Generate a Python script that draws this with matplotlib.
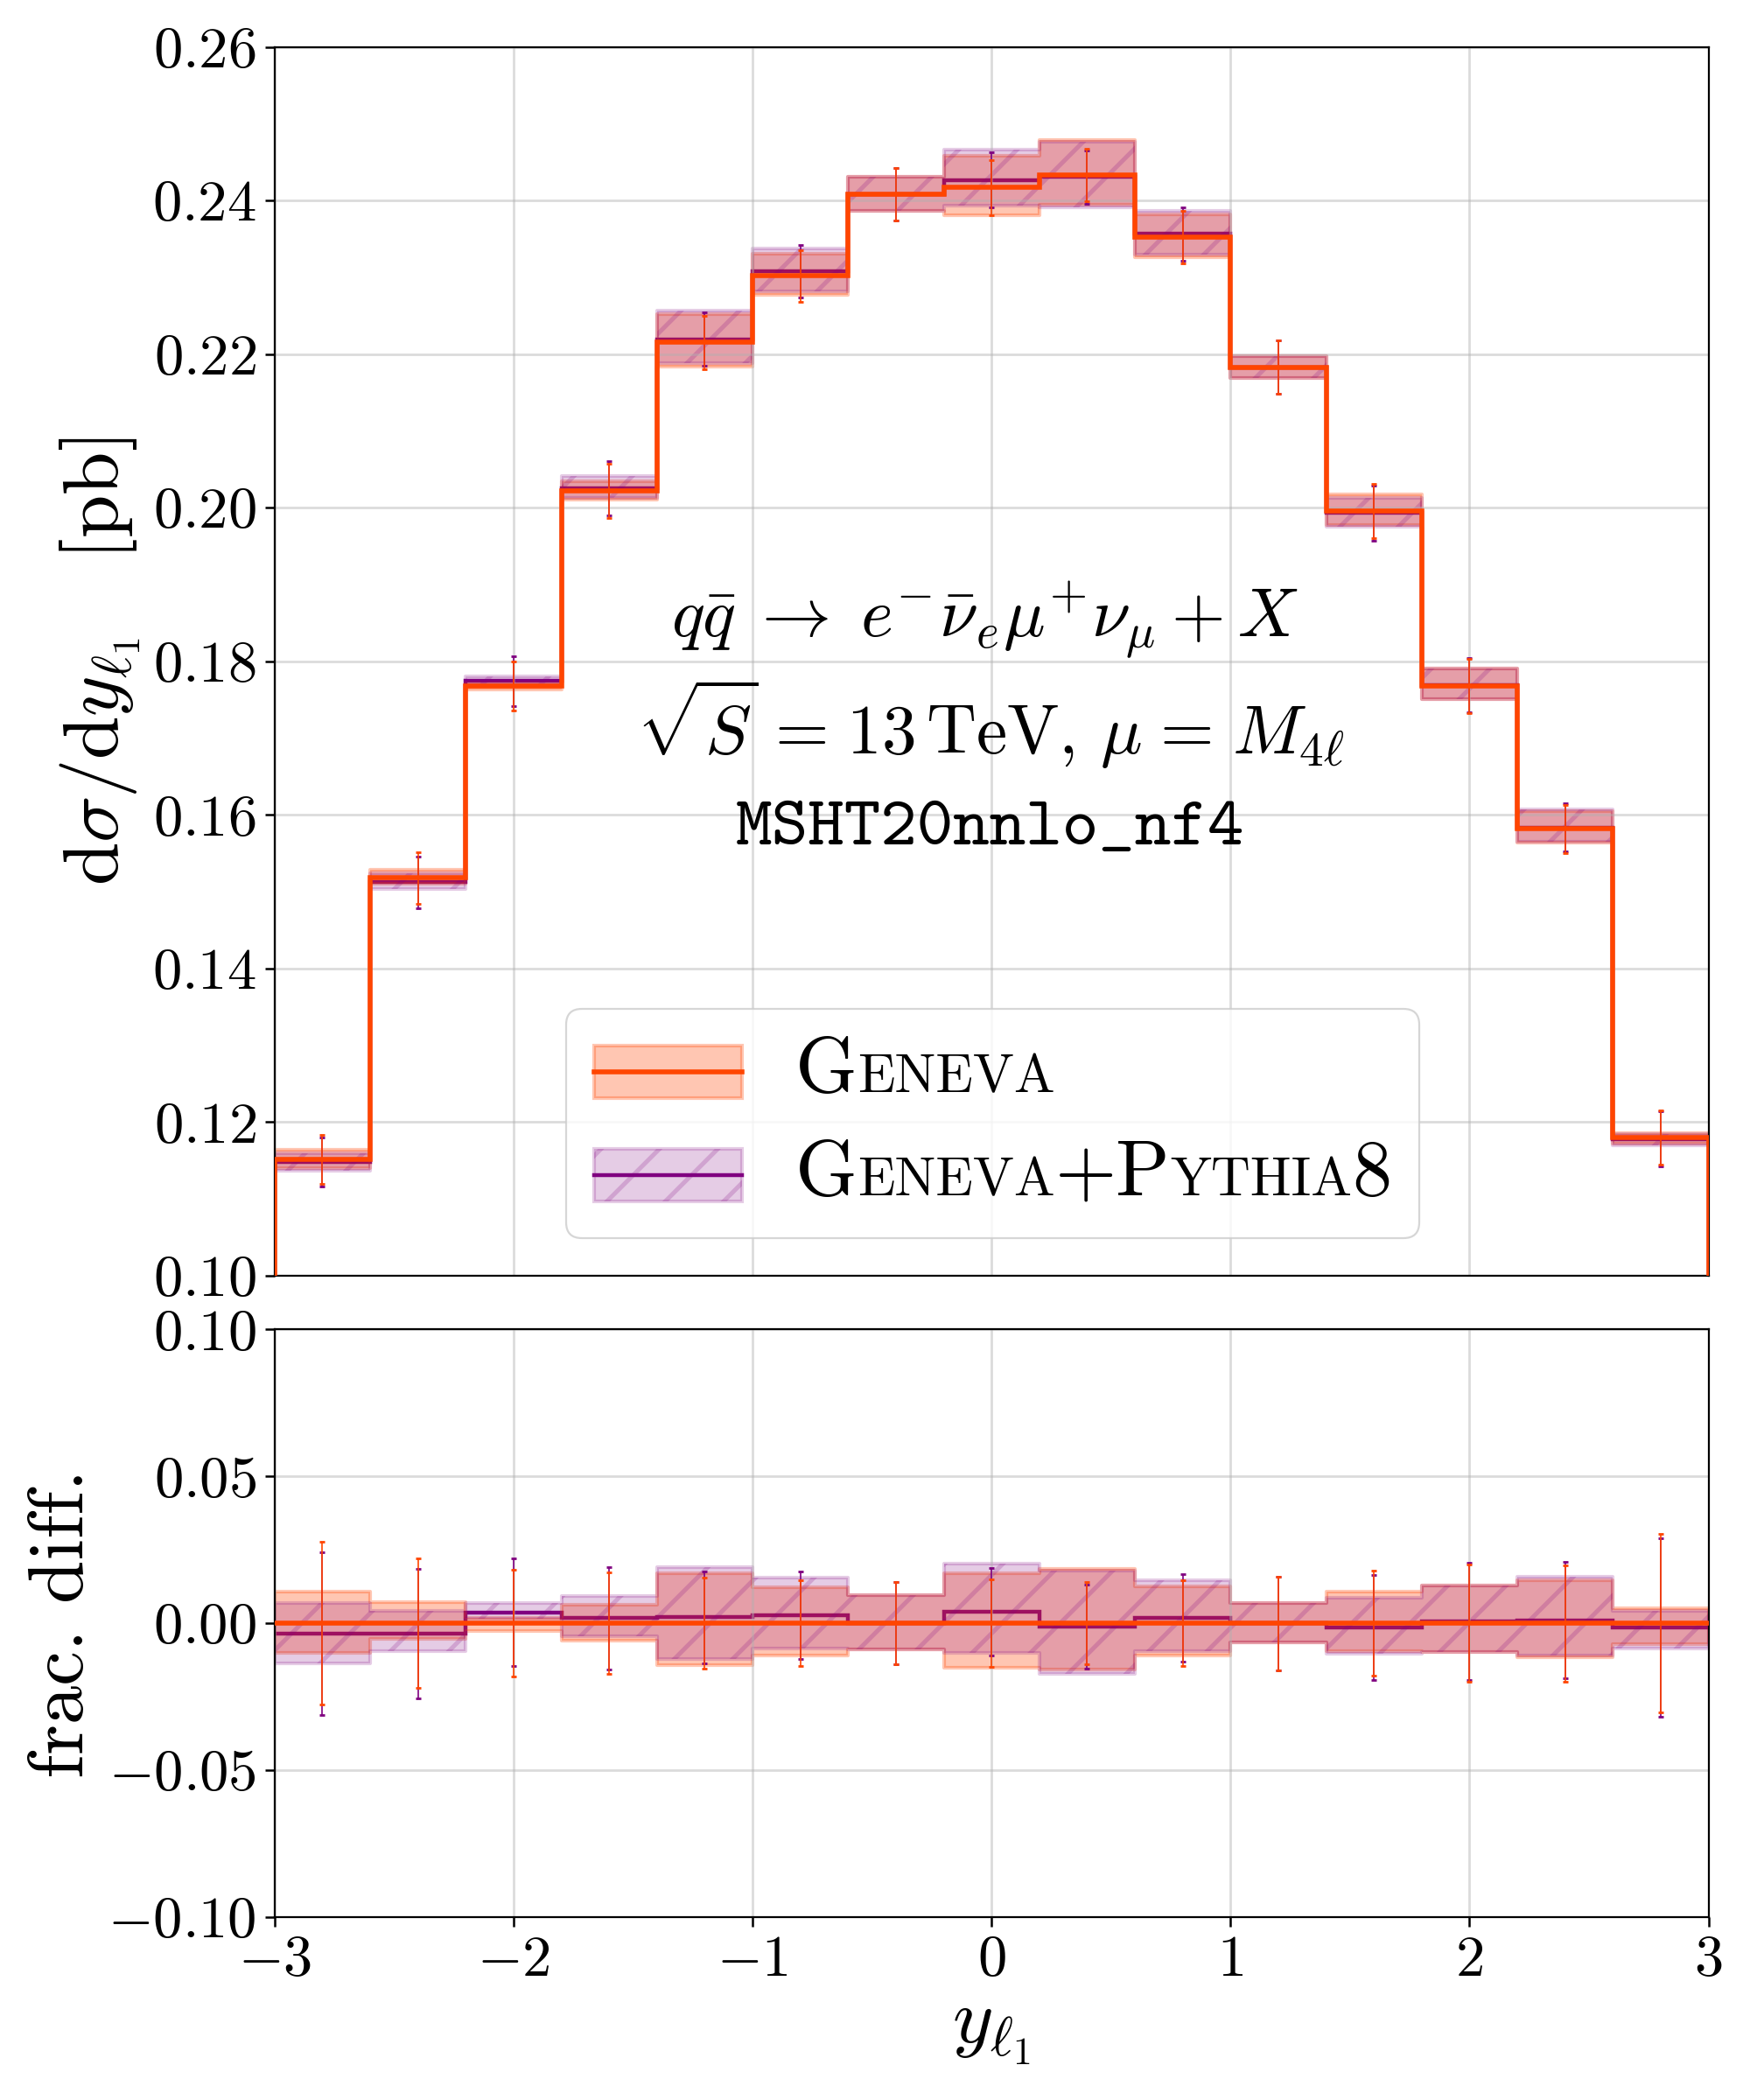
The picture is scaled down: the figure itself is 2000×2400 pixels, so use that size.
import numpy as np
import matplotlib
matplotlib.use('Agg')
import matplotlib.pyplot as plt
from matplotlib.offsetbox import AnchoredOffsetbox, DrawingArea, HPacker, TextArea, VPacker
from matplotlib.patches import Rectangle
from matplotlib.lines import Line2D
from matplotlib.ticker import FuncFormatter

plt.rcParams['font.family'] = 'serif'
plt.rcParams['font.serif'] = ['cmr10']
plt.rcParams['mathtext.fontset'] = 'cm'
plt.rcParams['axes.unicode_minus'] = False
plt.rcParams['hatch.linewidth'] = 1.8

# binning in y_l1
edges = [-3.0, -2.6, -2.2, -1.8, -1.4, -1.0, -0.6, -0.2, 0.2, 0.6, 1.0, 1.4, 1.8, 2.2, 2.6, 3.0]

# Geneva central value [pb]
geneva = [0.1152, 0.1518, 0.1768, 0.2022, 0.2215, 0.2302, 0.2408, 0.2417,
          0.2433, 0.2352, 0.2183, 0.1996, 0.1768, 0.1582, 0.1180]

# everything below is relative to Geneva central value (frac. diff.)
py8_diff = [-0.0036, -0.0036, 0.0037, 0.0017, 0.0020, 0.0027, 0.0000, 0.0040,
            -0.0011, 0.0018, 0.0000, -0.0015, 0.0006, 0.0011, -0.0015]

geneva_up = [0.0109, 0.0071, 0.0019, 0.0062, 0.0169, 0.0122, 0.0096, 0.0171,
             0.0186, 0.0126, 0.0068, 0.0109, 0.0129, 0.0146, 0.0052]
geneva_dn = [-0.0102, -0.0053, -0.0025, -0.0058, -0.0142, -0.0109, -0.0090, -0.0150,
             -0.0157, -0.0110, -0.0066, -0.0095, -0.0098, -0.0117, -0.0072]

py8_up = [0.0068, 0.0042, 0.0068, 0.0093, 0.0190, 0.0156, 0.0096, 0.0203,
          0.0180, 0.0146, 0.0068, 0.0086, 0.0129, 0.0158, 0.0042]
py8_dn = [-0.0137, -0.0095, 0.0014, -0.0045, -0.0122, -0.0087, -0.0090, -0.0100,
          -0.0172, -0.0094, -0.0066, -0.0104, -0.0098, -0.0110, -0.0087]

# statistical errors
geneva_stat = [0.0277, 0.0220, 0.0182, 0.0173, 0.0155, 0.0146, 0.0140, 0.0149,
               0.0140, 0.0146, 0.0159, 0.0178, 0.0200, 0.0198, 0.0304]
py8_stat = [0.0277, 0.0221, 0.0183, 0.0173, 0.0156, 0.0148, 0.0140, 0.0149,
            0.0142, 0.0148, 0.0159, 0.0178, 0.0200, 0.0199, 0.0304]

main_yticks = [0.10, 0.12, 0.14, 0.16, 0.18, 0.20, 0.22, 0.24, 0.26]
ratio_yticks = [-0.10, -0.05, 0.00, 0.05, 0.10]
xticks = [-3, -2, -1, 0, 1, 2, 3]

C_GEN = 'orangered'
C_PY8 = 'purple'
FS_TICK = 24
FS_LABEL = 32
FS_TEXT = 28.5

edges = np.array(edges)
centers = 0.5 * (edges[:-1] + edges[1:])
g = np.array(geneva)
p = g * (1 + np.array(py8_diff))


def ext(a):
    return np.append(a, a[-1])


def draw_panel(ax, ref, base, baseline):
    """ bands, step lines and stat. error bars, shifted by base and divided by ref """
    gc = (g - base) / ref
    pc = (p - base) / ref
    ax.fill_between(edges, ext((g * (1 + np.array(geneva_dn)) - base) / ref),
                    ext((g * (1 + np.array(geneva_up)) - base) / ref),
                    step='post', color=C_GEN, alpha=0.3, lw=1.5, zorder=1)
    ax.fill_between(edges, ext((g * (1 + np.array(py8_dn)) - base) / ref),
                    ext((g * (1 + np.array(py8_up)) - base) / ref),
                    step='post', color=C_PY8, alpha=0.2, hatch='/', lw=1.5, zorder=1.1)
    ax.stairs(pc, edges, baseline=baseline, color=C_PY8, lw=1.6, zorder=0.8)
    ax.stairs(gc, edges, baseline=baseline, color=C_GEN, lw=2.0, zorder=3)
    ax.errorbar(centers, pc, yerr=g * np.array(py8_stat) / ref, fmt='none',
                ecolor=C_PY8, elinewidth=0.6, capsize=1.2, capthick=1.0, zorder=2.5)
    ax.errorbar(centers, gc, yerr=g * np.array(geneva_stat) / ref, fmt='none',
                ecolor=C_GEN, elinewidth=0.6, capsize=1.2, capthick=1.0, zorder=2.6)


fig = plt.figure(figsize=(10, 12), dpi=200)
ax = fig.add_axes([0.1569, 0.3925, 0.8194, 0.5852])
axr = fig.add_axes([0.1569, 0.0871, 0.8194, 0.2798], sharex=ax)

draw_panel(ax, 1.0, 0.0, 0.10)
draw_panel(axr, g, g, None)

mfmt = FuncFormatter(lambda v, pos: f'${v:.2f}$')
for a, yt, ylim in ((ax, main_yticks, (0.10, 0.26)), (axr, ratio_yticks, (-0.10, 0.10))):
    a.set_xlim(-3, 3)
    a.set_ylim(*ylim)
    a.set_yticks(yt)
    a.yaxis.set_major_formatter(mfmt)
    a.grid(True, color='#b0b0b0', alpha=0.45, lw=1.0)
    a.tick_params(labelsize=FS_TICK, width=0.9, length=4)

axr.set_xticks(xticks)
axr.xaxis.set_major_formatter(FuncFormatter(lambda v, pos: f'${v:.0f}$'))
ax.tick_params(axis='x', bottom=False, labelbottom=False)

ax.set_ylabel(r'$\mathrm{d}\sigma/\mathrm{d}y_{\ell_1}\quad[\mathrm{pb}]$', fontsize=FS_LABEL)
axr.set_ylabel('frac. diff.', fontsize=FS_LABEL)
axr.set_xlabel(r'$y_{\ell_1}$', fontsize=FS_LABEL)

ax.text(0.495, 0.5198, r'$q\bar{q}\;\to\;e^{-}\bar{\nu}_{e}\mu^{+}\nu_{\mu}+X$',
        transform=ax.transAxes, ha='center', va='baseline', fontsize=FS_TEXT)
ax.text(0.499, 0.4244,
        r'$\sqrt{S}\hspace{0.1}=\hspace{0.1}13\,\mathrm{TeV},\,\mu\hspace{0.1}=\hspace{0.1}M_{4\ell}$',
        transform=ax.transAxes, ha='center', va='baseline', fontsize=FS_TEXT)
ax.text(0.499, 0.351, 'MSHT20nnlo_nf4', family='cmtt10',
        transform=ax.transAxes, ha='center', va='baseline', fontsize=FS_TEXT)

# legend with small caps labels, built by hand
BIG, SMALL = 32.5, 22.5
HW, HH = 61, 21.6


def sc_label(parts):
    boxes = [TextArea(t, textprops=dict(fontsize=BIG if big else SMALL, family='serif'))
             for t, big in parts]
    return HPacker(children=boxes, align='baseline', pad=0, sep=0)


def handle(color, alpha, hatch, lw):
    da = DrawingArea(HW, HH, 0, 0)
    da.add_artist(Rectangle((0, 0), HW, HH, facecolor=color, edgecolor=color,
                            alpha=alpha, hatch=hatch, lw=1.5))
    da.add_artist(Line2D([0, HW], [HH / 2, HH / 2], color=color, lw=lw))
    return da


rows = [
    HPacker(children=[handle(C_GEN, 0.3, None, 2.0),
                      sc_label([('G', True), ('ENEVA', False)])],
            align='center', pad=0, sep=22),
    HPacker(children=[handle(C_PY8, 0.2, '/', 1.6),
                      sc_label([('G', True), ('ENEVA', False), ('+P', True),
                                ('YTHIA', False), ('8', True)])],
            align='center', pad=0, sep=22),
]
box = VPacker(children=rows, align='left', pad=0, sep=13)
leg = AnchoredOffsetbox(loc='lower center', child=box, pad=0.35, borderpad=0,
                        frameon=True, bbox_to_anchor=(0.501, 0.0303),
                        bbox_transform=ax.transAxes, prop=dict(size=BIG))
leg.patch.set_boxstyle('round,pad=0,rounding_size=0.2')
leg.patch.set_facecolor('white')
leg.patch.set_edgecolor('0.8')
leg.patch.set_alpha(0.8)
leg.patch.set_linewidth(0.8)
leg.set_zorder(5)
ax.add_artist(leg)

fig.savefig('out.png', dpi=200)
